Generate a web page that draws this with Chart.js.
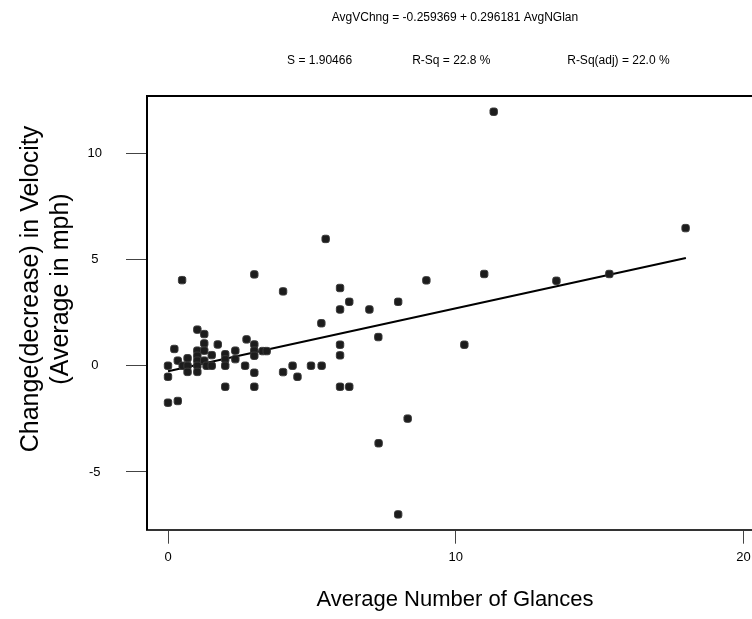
<!DOCTYPE html>
<html>
<head>
<meta charset="utf-8">
<script src="https://cdn.jsdelivr.net/npm/chart.js@4.4.1/dist/chart.umd.min.js"></script>
<style>
    html, body { margin: 0; padding: 0; background: #fff; overflow: hidden; }
    #wrap { width: 910px; height: 619px; }
</style>
</head>
<body>
<div id="wrap"><canvas id="glance-chart" width="910" height="619"></canvas></div>
<script>
// average number of glances vs change (decrease) in velocity
const glances = [
    0.0, 0.0, 0.0, 0.34, 0.22, 0.34, 0.51, 0.49, 0.68, 0.68,
    0.68, 1.02, 1.02, 1.02, 1.02, 1.02, 1.02, 1.26, 1.26, 1.26,
    1.26, 1.34, 1.52, 1.52, 1.73, 1.99, 1.99, 1.99, 1.99, 2.34,
    2.34, 2.68, 2.73, 3.0, 3.0, 3.0, 3.0, 3.0, 3.0, 3.29,
    3.43, 4.0, 4.0, 4.33, 4.5, 4.97, 5.34, 5.33, 5.48, 5.98,
    5.98, 5.98, 5.98, 5.98, 6.30, 6.30, 7.0, 7.31, 7.32, 8.0,
    8.0, 8.33, 8.98, 10.3, 10.99, 11.32, 13.5, 15.34, 17.99
];
const velocityChange = [
    0.0, -0.52, -1.74, -1.66, 0.79, 0.24, 0.0, 4.03, 0.35, 0.0,
    -0.29, 1.70, 0.71, 0.47, 0.24, 0.0, -0.29, 1.49, 1.05, 0.71,
    0.24, 0.0, 0.5, 0.0, 1.0, 0.54, 0.30, 0.0, -0.99, 0.71,
    0.31, 0.0, 1.24, 4.3, 1.0, 0.71, 0.47, -0.33, -0.99, 0.69,
    0.69, 3.5, -0.30, 0.0, -0.52, 0.0, 0.0, 2.0, 5.97, 3.66,
    2.65, 0.99, 0.49, -0.99, 3.01, -0.99, 2.65, 1.35, -3.65, 3.01,
    -7.0, -2.49, 4.02, 0.99, 4.32, 11.96, 4.0, 4.32, 6.48
];
// fitted line end points
const fitX = [0, 18];
const fitY = [-0.26, 5.07];

const xTicks = [0, 10, 20];
const yTicks = [-5, 0, 5, 10];

const headerLine = "AvgVChng = -0.259369 + 0.296181 AvgNGlan";
// leading blanks push the stats line a little right, as in the original
const statsLine = "              S = 1.90466                  R-Sq = 22.8 %                       R-Sq(adj) = 22.0 %";
const xTitle = "Average Number of Glances";
const yTitleLines = ["Change(decrease) in Velocity", "(Average in mph)"];

const FONT = '"Liberation Sans", Arial, sans-serif';

const yTitlePlugin = {
    id: "yTitle",
    afterDraw(chart) {
        const ctx = chart.ctx;
        ctx.save();
        ctx.font = "25px " + FONT;
        ctx.fillStyle = "#000";
        ctx.textAlign = "center";
        ctx.textBaseline = "middle";
        yTitleLines.forEach(function(t, i) {
            ctx.save();
            ctx.translate(31 + i * 30, chart.chartArea.top + 193);
            ctx.rotate(-Math.PI / 2);
            ctx.fillText(t, 0, 0);
            ctx.restore();
        });
        ctx.restore();
    }
};

const ctx = document.getElementById("glance-chart").getContext("2d");

new Chart(ctx, {
    type: "scatter",
    data: {
        datasets: [
            {
                data: glances.map((g, i) => ({ x: g, y: velocityChange[i] })),
                pointStyle: "rectRounded",
                pointRadius: 4.3,
                backgroundColor: "#1c1c1c",
                borderColor: "#3a3a3a",
                borderWidth: 1
            },
            {
                type: "line",
                data: fitX.map((g, i) => ({ x: g, y: fitY[i] })),
                borderColor: "#000",
                borderWidth: 2,
                pointRadius: 0,
                fill: false
            }
        ]
    },
    options: {
        responsive: false,
        animation: false,
        layout: { padding: 0 },
        plugins: {
            legend: { display: false },
            tooltip: { enabled: false },
            title: {
                display: true,
                text: headerLine,
                color: "#000",
                font: { family: FONT, size: 12, weight: "normal", lineHeight: 1.2 },
                padding: { top: 10, bottom: 0 }
            },
            subtitle: {
                display: true,
                text: statsLine,
                color: "#000",
                font: { family: FONT, size: 12, weight: "normal", lineHeight: 1.2 },
                padding: { top: 29, bottom: 28.2 }
            }
        },
        scales: {
            x: {
                type: "linear",
                position: "bottom",
                min: -0.73,
                max: 20.68,
                afterBuildTicks: s => { s.ticks = xTicks.map(v => ({ value: v })); },
                afterFit: s => { s.height = 89.3; },
                ticks: {
                    color: "#000",
                    font: { family: FONT, size: 13 },
                    padding: 6,
                    maxRotation: 0
                },
                grid: {
                    drawOnChartArea: false,
                    drawTicks: true,
                    tickLength: 14,
                    tickColor: "#444",
                    tickWidth: 1
                },
                border: { display: true, color: "#333", width: 2 },
                title: {
                    display: true,
                    text: xTitle,
                    color: "#000",
                    font: { family: FONT, size: 22 },
                    padding: { top: 0, bottom: 6 }
                }
            },
            y: {
                type: "linear",
                position: "left",
                min: -7.72,
                max: 12.70,
                afterBuildTicks: s => { s.ticks = yTicks.map(v => ({ value: v })); },
                afterFit: s => { s.width = 147; },
                ticks: {
                    color: "#000",
                    font: { family: FONT, size: 13 },
                    padding: 24,
                    crossAlign: "center"
                },
                grid: {
                    drawOnChartArea: false,
                    drawTicks: true,
                    tickLength: 21,
                    tickColor: "#444",
                    tickWidth: 1
                },
                border: { display: true, color: "#000", width: 2 }
            },
            xTop: {
                type: "linear",
                position: "top",
                afterFit: s => { s.height = 0; },
                ticks: { display: false },
                grid: { drawOnChartArea: false, drawTicks: false },
                border: { display: true, color: "#000", width: 2 }
            },
            yRight: {
                type: "linear",
                position: "right",
                afterFit: s => { s.width = 147; },
                ticks: { display: false },
                grid: { drawOnChartArea: false, drawTicks: false },
                border: { display: true, color: "#000", width: 2 }
            }
        }
    },
    plugins: [yTitlePlugin]
});
</script>
</body>
</html>
